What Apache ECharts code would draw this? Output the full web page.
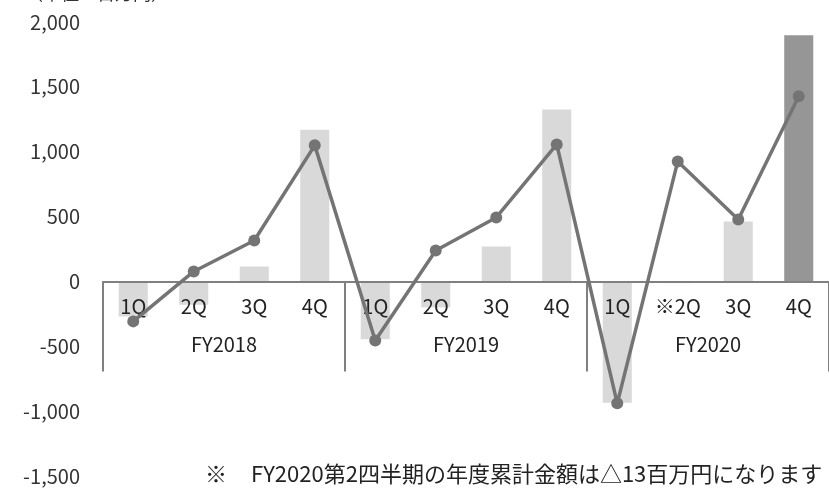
<!DOCTYPE html>
<html><head><meta charset="utf-8">
<script src="https://cdn.jsdelivr.net/npm/echarts@6/dist/echarts.min.js"></script>
<style>html,body{margin:0;padding:0;background:#fff}#c{width:829px;height:488px}</style>
</head><body><div id="c"></div>
<script>
const quarters = ['1Q','2Q','3Q','4Q','1Q','2Q','3Q','4Q','1Q','※2Q','3Q','4Q'];
const years = ['FY2018','FY2019','FY2020'];
const barValues = [-270,-180,115,1170,-445,-200,270,1325,-935,-13,462,1897];
const lineValues = [-308,77,316,1049,-455,239,493,1056,-940,925,478,1427];
const yTicks = [-1500,-1000,-500,0,500,1000,1500,2000];
const unitText = '（単位：百万円）';
const noteMark = '※';
const noteText = 'FY2020第2四半期の年度累計金額は△13百万円になります';

const font = '"Noto Sans CJK JP", sans-serif';
const gridTop = 22, gridBottom = 12, H = 488;
const yMin = yTicks[0], yMax = yTicks[yTicks.length-1];
const plotH = H - gridTop - gridBottom;
const zeroOffset = -(plotH * (0 - yMin) / (yMax - yMin));

const chart = echarts.init(document.getElementById('c'), null, {renderer:'canvas'});
chart.setOption({
  animation:false,
  grid:{left:103,right:0,top:gridTop,bottom:gridBottom,containLabel:false,outerBoundsMode:'none'},
  graphic:[
    {type:'text',left:25,top:-16,style:{text:unitText,font:'18px '+font,fill:'#333'}},
    {type:'text',left:205,top:463,style:{text:noteMark,font:'22px '+font,fill:'#222'}},
    {type:'text',left:251,top:463,style:{text:noteText,font:'22px '+font,fill:'#222'}}
  ],
  xAxis:[
    {type:'category',data:quarters,boundaryGap:true,position:'bottom',offset:zeroOffset,z:3,
     axisLine:{show:true,onZero:false,lineStyle:{color:'#808080',width:2}},
     axisTick:{show:false},
     axisLabel:{interval:0,margin:15,color:'#222',fontSize:20,fontFamily:font}},
    {type:'category',data:years,boundaryGap:true,position:'bottom',offset:zeroOffset,z:3,
     axisLine:{show:false,onZero:false},
     axisTick:{show:true,interval:0,length:90,lineStyle:{color:'#808080',width:2}},
     axisLabel:{interval:0,margin:53,color:'#222',fontSize:20,fontFamily:font}}
  ],
  yAxis:{type:'value',min:yMin,max:yMax,interval:500,
    axisLine:{show:false},axisTick:{show:false},splitLine:{show:false},
    axisLabel:{margin:23,color:'#333',fontSize:20,fontFamily:font,
      formatter:v=>v.toLocaleString('en-US')}},
  series:[
    {type:'bar',xAxisIndex:0,barWidth:'48%',z:2,
     data:barValues.map((v,i)=>({value:v,itemStyle:{color:i===11?'#969696':'#d9d9d9'}}))},
    {type:'line',xAxisIndex:0,data:lineValues,symbol:'circle',symbolSize:12,
     lineStyle:{color:'#747474',width:3.5},itemStyle:{color:'#747474'},z:5}
  ]
});
</script></body></html>
